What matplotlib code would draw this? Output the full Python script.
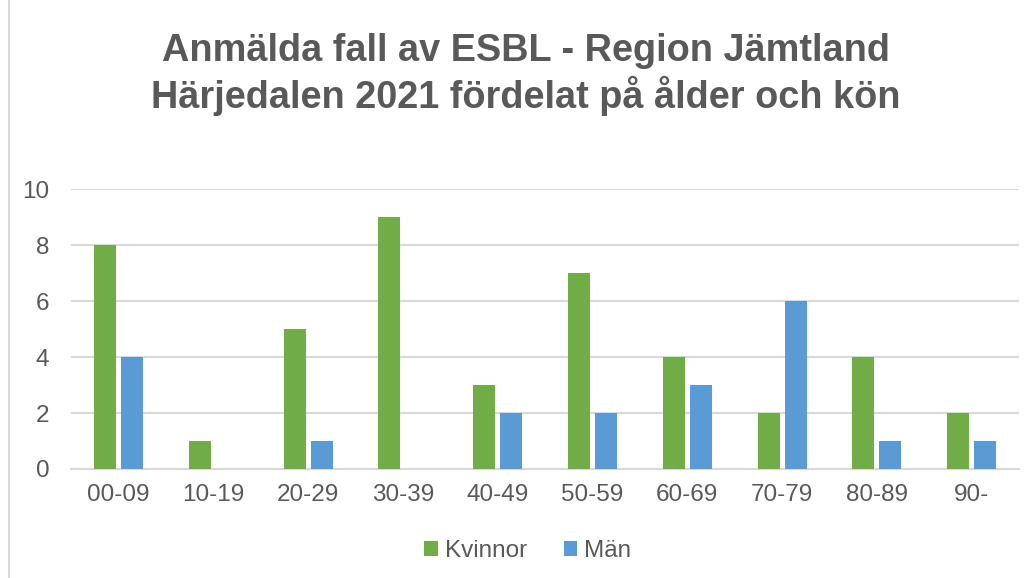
import numpy as np
import matplotlib
matplotlib.use("Agg")
from matplotlib import pyplot as plt
from matplotlib.patches import Rectangle

plt.rcParams['font.family'] = ['Liberation Sans', 'DejaVu Sans']

# data
age_groups = ['00-09', '10-19', '20-29', '30-39', '40-49',
              '50-59', '60-69', '70-79', '80-89', '90-']
kvinnor = [8, 1, 5, 9, 3, 7, 4, 2, 4, 2]
man = [4, 0, 1, 0, 2, 2, 3, 6, 1, 1]
y_ticks = [0, 2, 4, 6, 8, 10]

title = 'Anmälda fall av ESBL - Region Jämtland\nHärjedalen 2021 fördelat på ålder och kön'

green = '#70AD47'
blue = '#5B9BD5'
text_col = '#595959'
grid_col = '#D9D9D9'

fig = plt.figure(figsize=(10.35, 5.78), dpi=100)
ax = fig.add_axes([0.0686, 0.1886, 0.9159, 0.4836])

x = np.arange(len(age_groups))
w = 0.232
ax.bar(x - 0.141, kvinnor, w, color=green, label='Kvinnor', zorder=3)
ax.bar(x + 0.143, man, w, color=blue, label='Män', zorder=3)

ax.set_xlim(-0.5, len(age_groups) - 0.5)
ax.set_ylim(0, 10)
ax.set_yticks(y_ticks)
ax.set_xticks(x)
ax.set_xticklabels(age_groups)
ax.yaxis.grid(True, color=grid_col, linewidth=1.5, zorder=0)
ax.tick_params(axis='both', length=0, labelsize=17.5, labelcolor=text_col)
ax.tick_params(axis='x', pad=11)
ax.tick_params(axis='y', pad=15.5)
for s in ['top', 'right', 'left']:
    ax.spines[s].set_visible(False)
ax.spines['bottom'].set_color(grid_col)
ax.spines['bottom'].set_linewidth(1.5)
ax.set_axisbelow(True)

fig.text(0.508, 0.871, title, ha='center', va='center', fontsize=27.3,
         fontweight='bold', color=text_col, linespacing=1.22)

fig.legend(loc='center', bbox_to_anchor=(0.51, 0.047), ncol=2, frameon=False,
           fontsize=17.5, labelcolor=text_col, handlelength=0.55, handleheight=0.55,
           handletextpad=0.3, columnspacing=1.5)

# light frame around the chart area
fig.patches.append(Rectangle((9 / 1035, -0.01), 1.1, 1.1, transform=fig.transFigure,
                             fill=False, edgecolor=grid_col, linewidth=1.5))

fig.savefig('out.png', dpi=100, facecolor='white')
